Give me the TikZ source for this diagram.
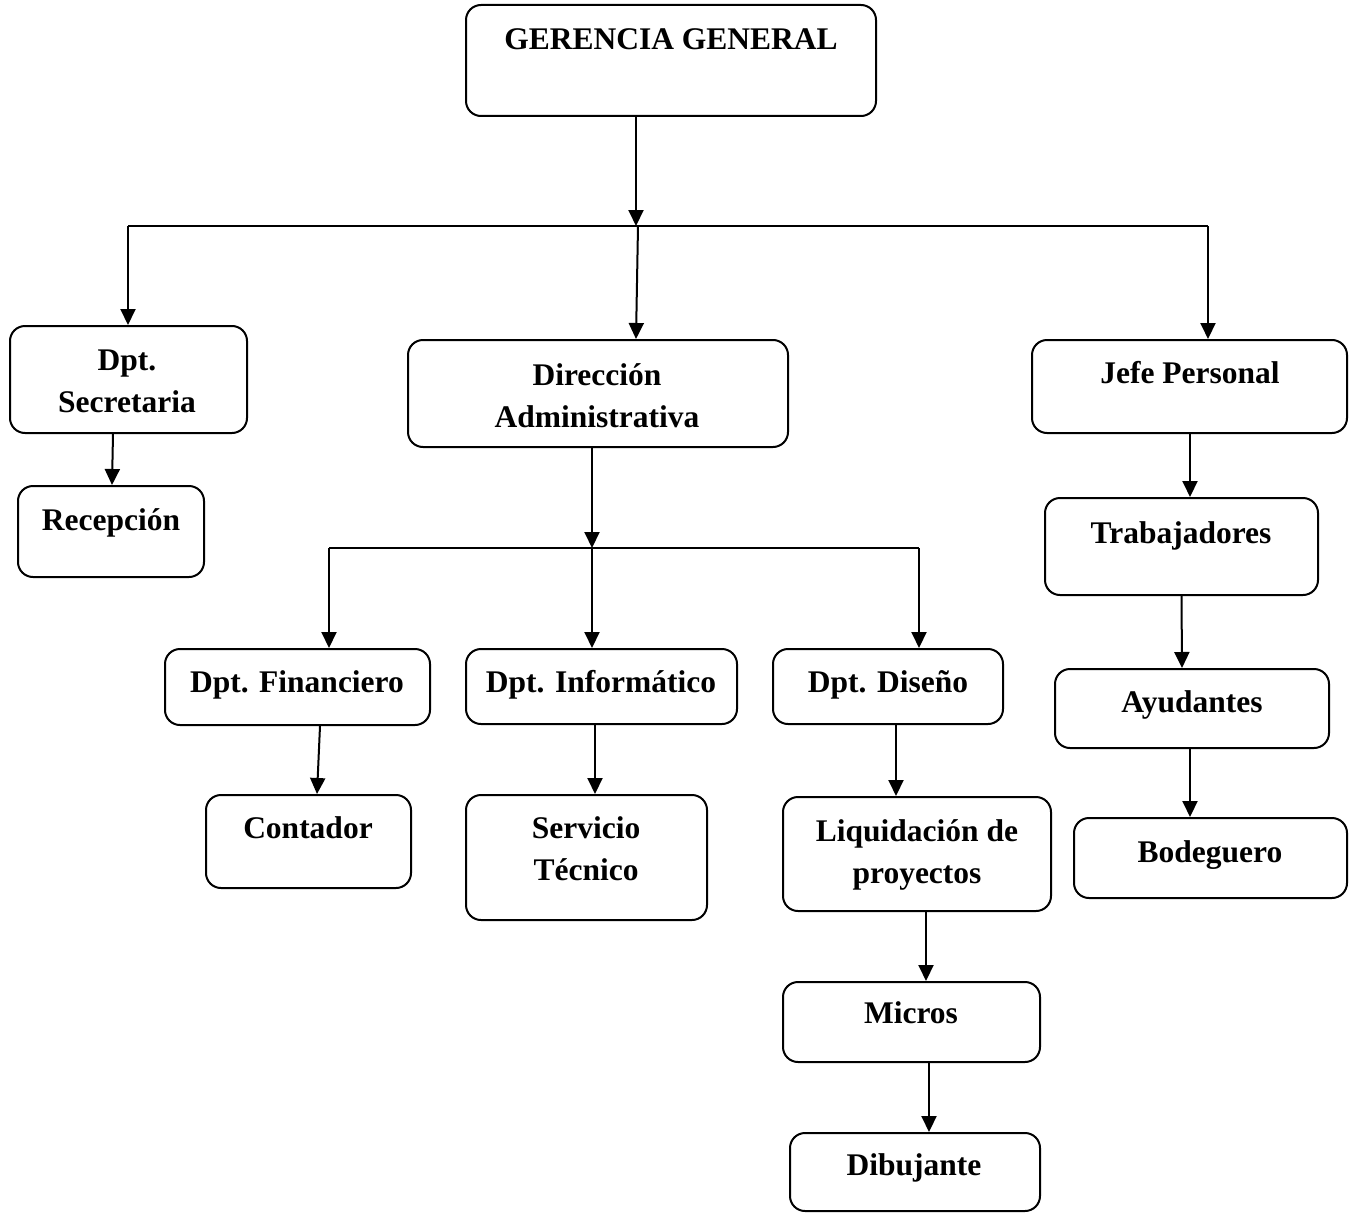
\documentclass[tikz,border=0pt]{standalone}
\usepackage{fontspec}
\setmainfont{Liberation Serif}
\usetikzlibrary{arrows.meta}
\begin{document}
\begin{tikzpicture}[x=1pt,y=-1pt,
  box/.style={draw, line width=2pt, rounded corners=15pt, inner sep=0pt},
  txt/.style={anchor=base, inner sep=0pt, align=center, font=\bfseries\fontsize{31.5}{41.5}\selectfont},
  conn/.style={line width=2pt},
  arr/.style={line width=2pt, -{Triangle[length=16pt,width=15pt]}}]
\useasboundingbox (0,0) rectangle (1356,1212);
% boxes
\node[box, minimum width=410pt, minimum height=111pt] (gg) at (671,60.5) {};
\node[box, minimum width=237pt, minimum height=107pt] (sec) at (128.5,379.5) {};
\node[box, minimum width=186pt, minimum height=91pt] (rec) at (111,531.5) {};
\node[box, minimum width=380pt, minimum height=107pt] (dir) at (598,393.5) {};
\node[box, minimum width=315pt, minimum height=93pt] (jefe) at (1189.5,386.5) {};
\node[box, minimum width=273pt, minimum height=97pt] (trab) at (1181.5,546.5) {};
\node[box, minimum width=274pt, minimum height=79pt] (ayu) at (1192,708.5) {};
\node[box, minimum width=273pt, minimum height=80pt] (bod) at (1210.5,858) {};
\node[box, minimum width=265pt, minimum height=76pt] (fin) at (297.5,687) {};
\node[box, minimum width=205pt, minimum height=93pt] (cont) at (308.5,841.5) {};
\node[box, minimum width=271pt, minimum height=75pt] (inf) at (601.5,686.5) {};
\node[box, minimum width=241pt, minimum height=125pt] (serv) at (586.5,857.5) {};
\node[box, minimum width=230pt, minimum height=75pt] (dis) at (888,686.5) {};
\node[box, minimum width=268pt, minimum height=114pt] (liq) at (917,854) {};
\node[box, minimum width=257pt, minimum height=80pt] (mic) at (911.5,1022) {};
\node[box, minimum width=250pt, minimum height=78pt] (dib) at (915,1172) {};
% texts (anchor=base is the baseline of the last line)
\node[txt] (ggt) at (671,50) {GERENCIA GENERAL};
\node[txt] (sect) at (127,412) {Dpt.\\Secretaria};
\node[txt] (rect) at (111,530) {Recepción};
\node[txt] (dirt) at (597,427) {Dirección\\Administrativa};
\node[txt] (jefet) at (1190,383) {Jefe Personal};
\node[txt] (trabt) at (1181,543) {Trabajadores};
\node[txt] (ayut) at (1192,712) {Ayudantes};
\node[txt] (bodt) at (1210,862) {Bodeguero};
\node[txt] (fint) at (297,692) {Dpt. Financiero};
\node[txt] (contt) at (308,838) {Contador};
\node[txt] (inft) at (601,692) {Dpt. Informático};
\node[txt] (servt) at (586,880) {Servicio\\Técnico};
\node[txt] (dist) at (888,692) {Dpt. Diseño};
\node[txt] (liqt) at (917,883) {Liquidación de\\proyectos};
\node[txt] (mict) at (911,1023) {Micros};
\node[txt] (dibt) at (914,1175) {Dibujante};
% junctions
\coordinate (j1) at (636,226);
\coordinate (jm) at (638,226);
\coordinate (hl) at (128,226);
\coordinate (hr) at (1208,226);
\coordinate (j2) at (592,548);
\coordinate (fl) at (329,548);
\coordinate (fr) at (919,548);
% connectors
\draw[arr] (j1 |- gg.south) -- (j1);
\draw[conn] (hl) -- (hr);
\draw[arr] (hl) -- (hl |- sec.north);
\draw[arr] (hr) -- (hr |- jefe.north);
\draw[arr] (jm) -- ([xshift=38pt]dir.north);
\draw[arr] ([xshift=-15.5pt]sec.south) -- ([xshift=1pt]rec.north);
\draw[arr] (j2 |- dir.south) -- (j2);
\draw[conn] (fl) -- (fr);
\draw[arr] (fl) -- (fl |- fin.north);
\draw[arr] (j2) -- (j2 |- inf.north);
\draw[arr] (fr) -- (fr |- dis.north);
\draw[arr] ([xshift=22.5pt]fin.south) -- ([xshift=8.5pt]cont.north);
\draw[arr] ([xshift=-6.5pt]inf.south) -- ([xshift=8.5pt]serv.north);
\draw[arr] ([xshift=8pt]dis.south) -- ([xshift=-21pt]liq.north);
\draw[arr] ([xshift=9pt]liq.south) -- ([xshift=14.5pt]mic.north);
\draw[arr] ([xshift=17.5pt]mic.south) -- ([xshift=14pt]dib.north);
\draw[arr] ([xshift=0.5pt]jefe.south) -- ([xshift=8.5pt]trab.north);
\draw[arr] (trab.south) -- ([xshift=-10pt]ayu.north);
\draw[arr] ([xshift=-2pt]ayu.south) -- ([xshift=-20.5pt]bod.north);
\end{tikzpicture}
\end{document}
